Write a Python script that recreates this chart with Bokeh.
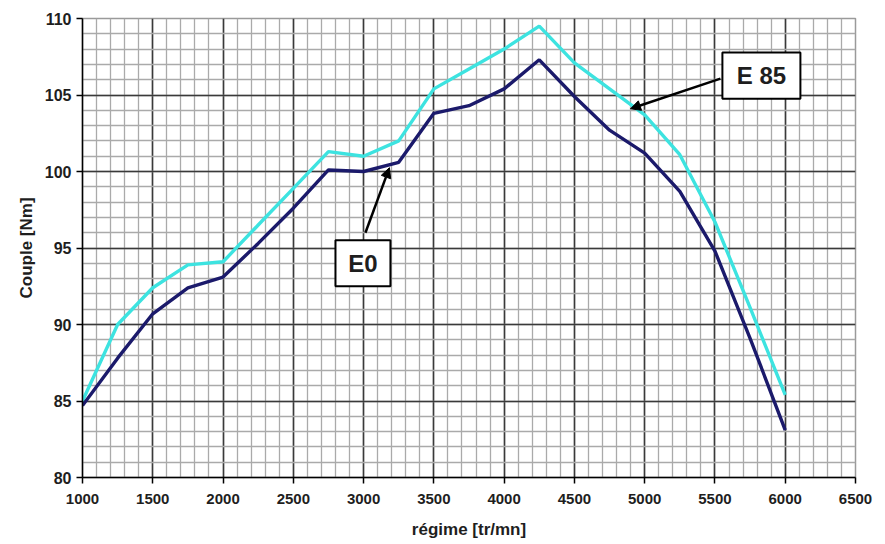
from bokeh.plotting import figure
from bokeh.models import (Range1d, SingleIntervalTicker, Label, Arrow, NormalHead,
                          BoxAnnotation)
from bokeh.embed import file_html
from bokeh.resources import INLINE

# data
regime = [1000, 1250, 1500, 1750, 2000, 2250, 2500, 2750, 3000, 3250, 3500,
          3750, 4000, 4250, 4500, 4750, 5000, 5250, 5500, 5750, 6000]
couple_e0 = [84.7, 87.8, 90.7, 92.4, 93.1, 95.3, 97.6, 100.1, 100.0, 100.6, 103.8,
             104.3, 105.4, 107.3, 104.9, 102.7, 101.2, 98.7, 94.8, 89.1, 83.1]
couple_e85 = [85.0, 90.0, 92.4, 93.9, 94.1, 96.5, 98.9, 101.3, 101.0, 102.0, 105.4,
              106.7, 108.0, 109.5, 107.1, 105.4, 103.7, 101.1, 96.7, 91.1, 85.4]

x_label = "régime [tr/mn]"
y_label = "Couple [Nm]"

# annotation anchors (data coordinates)
e0_box = dict(left=2800, right=3191, bottom=92.5, top=95.5)
e0_text = (2996, 94.0)
e0_arrow = (3013, 96.0, 3184, 100.25)
e85_box = dict(left=5553, right=6108, bottom=104.76, top=107.77)
e85_text = (5831, 106.27)
e85_arrow = (5539, 106.07, 4899, 104.1)

FONT = "Liberation Sans"

p = figure(width=885, height=544, output_backend="svg", toolbar_location=None,
           x_range=Range1d(1000, 6500), y_range=Range1d(80, 110),
           min_border_left=82, min_border_right=30, min_border_top=18,
           min_border_bottom=67)
p.background_fill_color = "white"
p.border_fill_color = "white"
p.outline_line_color = "#9a9a9a"
p.outline_line_width = 1.5

p.xaxis.ticker = SingleIntervalTicker(interval=500, num_minor_ticks=5)
p.yaxis.ticker = SingleIntervalTicker(interval=5, num_minor_ticks=5)

for ax in (p.xaxis[0], p.yaxis[0]):
    ax.axis_line_color = "black"
    ax.axis_line_width = 1.5
    ax.major_tick_line_color = "black"
    ax.major_tick_line_width = 1.5
    ax.major_tick_out = 6
    ax.major_tick_in = 0
    ax.minor_tick_line_color = None
    ax.major_label_text_font = FONT
    ax.major_label_text_font_style = "bold"
    ax.major_label_text_color = "#1e1e1e"
    ax.axis_label_text_font = FONT
    ax.axis_label_text_font_style = "bold"
    ax.axis_label_text_color = "#1e1e1e"

p.xaxis.axis_label = x_label
p.yaxis.axis_label = y_label
p.xaxis.major_label_text_font_size = "15px"
p.yaxis.major_label_text_font_size = "16px"
p.xaxis.axis_label_text_font_size = "17px"
p.yaxis.axis_label_text_font_size = "17px"
p.xaxis.major_label_standoff = 10
p.yaxis.major_label_standoff = 5
p.xaxis.axis_label_standoff = 13
p.yaxis.axis_label_standoff = 6

for g in (p.xgrid[0], p.ygrid[0]):
    g.grid_line_color = "#3a3a3a"
    g.grid_line_width = 1.6
    g.minor_grid_line_color = "#aaaaaa"
    g.minor_grid_line_width = 1.3

p.line(regime, couple_e85, line_color="#3de3e0", line_width=3.4)
p.line(regime, couple_e0, line_color="#1b1a6b", line_width=3.4)

# annotations
for (x0, y0, x1, y1) in (e0_arrow, e85_arrow):
    p.add_layout(Arrow(x_start=x0, y_start=y0, x_end=x1, y_end=y1,
                       line_color="black", line_width=2.5,
                       end=NormalHead(size=10, fill_color="black", line_color="black")))

for box, (tx, ty), txt in ((e0_box, e0_text, "E0"), (e85_box, e85_text, "E 85")):
    p.add_layout(BoxAnnotation(left=box["left"], right=box["right"],
                               bottom=box["bottom"], top=box["top"],
                               fill_color="white", fill_alpha=1.0,
                               line_color="black", line_width=2, line_alpha=1.0))
    p.add_layout(Label(x=tx, y=ty, text=txt, text_font=FONT, text_font_style="bold",
                       text_font_size="24px", text_color="#1e1e1e",
                       text_align="center", text_baseline="middle"))

open("out.html", "w").write(file_html(p, INLINE))
